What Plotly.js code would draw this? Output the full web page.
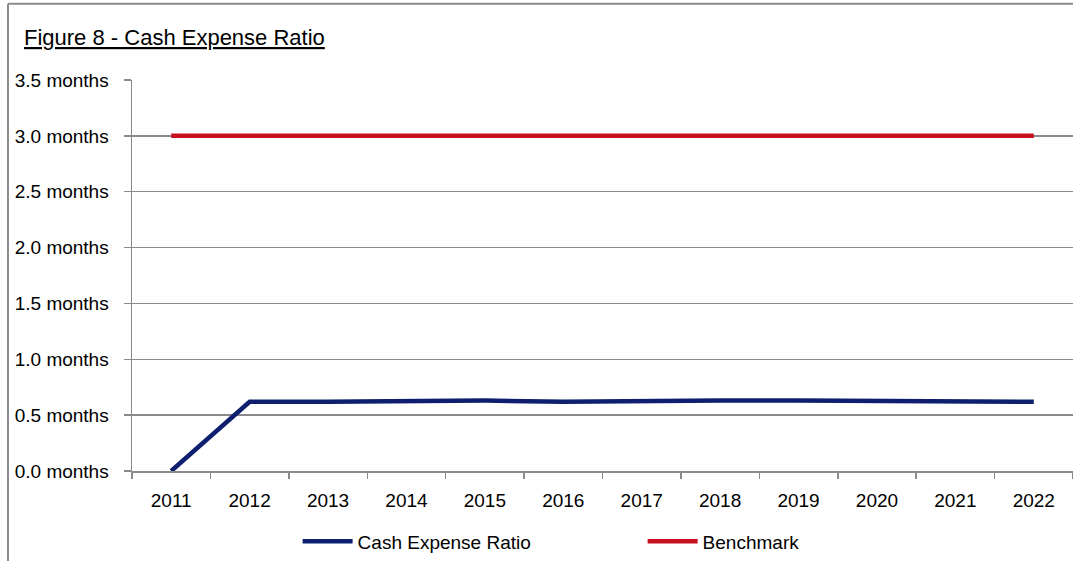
<!DOCTYPE html>
<html>
<head>
<meta charset="utf-8">
<script src="https://cdn.plot.ly/plotly-3.0.1.min.js"></script>
<style>html,body{margin:0;padding:0;background:#fff;}#chart{width:1073px;height:561px;}</style>
</head>
<body>
<div id="chart"></div>
<script>
const years = ['2011','2012','2013','2014','2015','2016','2017','2018','2019','2020','2021','2022'];
const cashExpenseRatio = [0.0, 0.62, 0.62, 0.63, 0.63, 0.62, 0.63, 0.63, 0.63, 0.63, 0.62, 0.62];
const benchmark = [3.0, 3.0, 3.0, 3.0, 3.0, 3.0, 3.0, 3.0, 3.0, 3.0, 3.0, 3.0];
const yTickVals = [0, 0.5, 1.0, 1.5, 2.0, 2.5, 3.0, 3.5];
const yTickText = ['0.0 months','0.5 months','1.0 months','1.5 months','2.0 months','2.5 months','3.0 months','3.5 months'];

const FONT = 'Liberation Sans, Arial, sans-serif';
const GRID = '#8a8a8a';

const traces = [
  {x: years, y: cashExpenseRatio, name: 'Cash Expense Ratio', type: 'scatter', mode: 'lines',
   line: {color: '#0d1f6e', width: 4.5}},
  {x: years, y: benchmark, name: 'Benchmark', type: 'scatter', mode: 'lines',
   line: {color: '#c8101e', width: 4.5}}
];

const layout = {
  width: 1073, height: 561,
  margin: {l: 132, r: 0, t: 80, b: 90, pad: 0, autoexpand: false},
  paper_bgcolor: '#fff', plot_bgcolor: '#fff',
  font: {family: FONT, size: 19, color: '#000'},
  showlegend: true,
  legend: {orientation: 'h', x: 0.176, xanchor: 'left', y: -0.18, yanchor: 'middle',
           font: {family: FONT, size: 19, color: '#000'},
           itemwidth: 50, entrywidth: 280, entrywidthmode: 'pixels', tracegroupgap: 0},
  xaxis: {type: 'category', range: [-0.5, 11.5], showgrid: false, showline: true, linecolor: GRID, linewidth: 1.5,
          ticks: 'outside', tickson: 'boundaries', ticklen: 6, tickcolor: GRID, tickwidth: 1.5,
          ticklabelstandoff: 12,
          tickfont: {family: FONT, size: 19, color: '#000'}, zeroline: false, fixedrange: true},
  yaxis: {range: [0, 3.5], tickvals: yTickVals, ticktext: yTickText, showgrid: true, gridcolor: GRID, gridwidth: 1.5,
          showline: true, linecolor: GRID, linewidth: 1.5, ticks: 'outside', ticklen: 7, tickcolor: GRID, tickwidth: 1.5,
          ticklabelstandoff: 11, tickfont: {family: FONT, size: 19, color: '#000'}, zeroline: false, fixedrange: true},
  annotations: [
    {text: '<u>Figure 8 - Cash Expense Ratio</u>', xref: 'paper', yref: 'paper', x: -0.117, y: 1.108,
     xanchor: 'left', yanchor: 'middle', showarrow: false, font: {family: FONT, size: 22, color: '#000'}}
  ],
  shapes: [
    {type: 'line', xref: 'paper', yref: 'paper', x0: -0.1318, x1: -0.1318, y0: 1.1949, y1: -0.26,
     line: {color: GRID, width: 2}},
    {type: 'line', xref: 'paper', yref: 'paper', x0: -0.1318, x1: 1.01, y0: 1.1949, y1: 1.1949,
     line: {color: GRID, width: 2}}
  ]
};

Plotly.newPlot('chart', traces, layout, {displayModeBar: false, staticPlot: true});
</script>
</body>
</html>
